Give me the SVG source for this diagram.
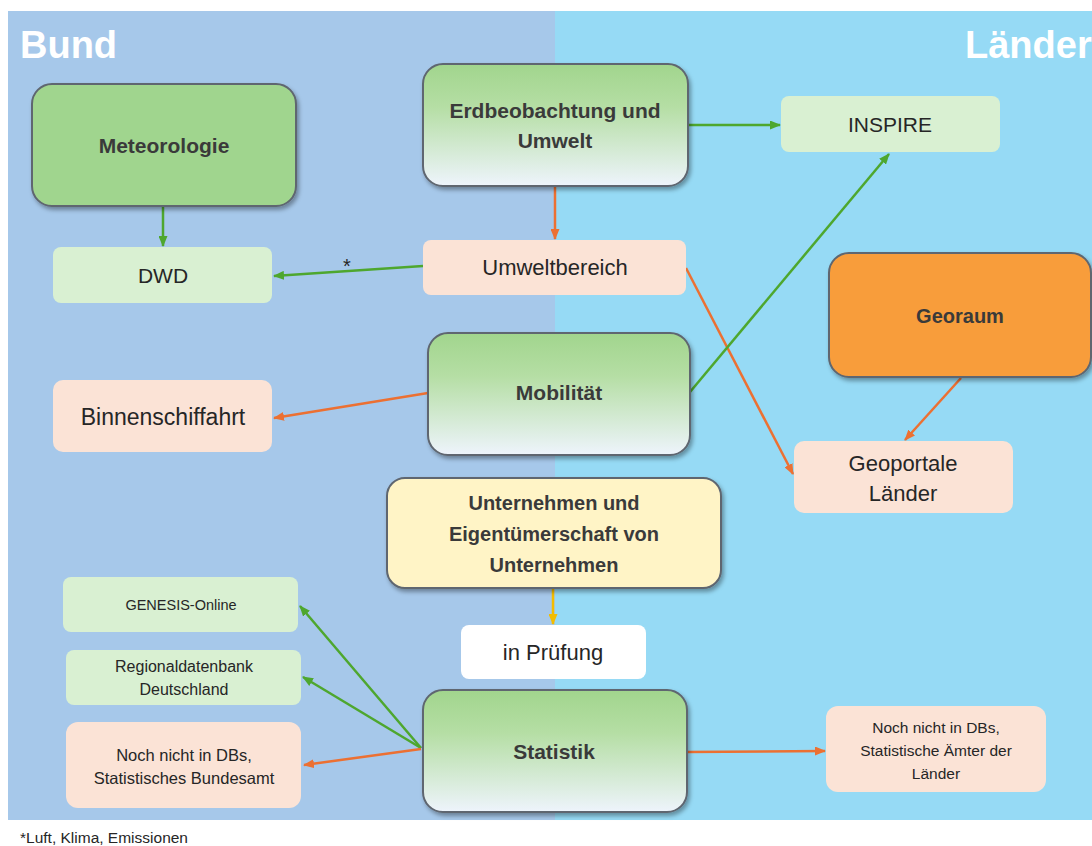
<svg xmlns="http://www.w3.org/2000/svg" width="1092" height="846" viewBox="0 0 1092 846">
<style>
  .t { font-family: "Liberation Sans", Arial, sans-serif; fill: #262626; text-anchor: middle; }
  .b { font-weight: bold; fill: #3a3a3a; }
  .main { stroke: #5e6670; stroke-width: 2; filter: url(#sh); }
  .lg { fill: #d9f0d2; }
  .pe { fill: #fbe3d6; }
  .g { stroke: #4ea72e; stroke-width: 2.5; fill: none; marker-end: url(#ag); }
  .o { stroke: #ec7032; stroke-width: 2.5; fill: none; marker-end: url(#ao); }
  .y { stroke: #f2bd00; stroke-width: 2.5; fill: none; marker-end: url(#ay); }
  .title { font-family: "Liberation Sans", Arial, sans-serif; font-weight: bold; fill: #ffffff; font-size: 38px; }
</style>
<defs>
  <linearGradient id="gw" x1="0" y1="0" x2="0" y2="1">
    <stop offset="0" stop-color="#a1d58d"/>
    <stop offset="0.35" stop-color="#b5dea4"/>
    <stop offset="1" stop-color="#eef4fc"/>
  </linearGradient>
  <filter id="sh" x="-10%" y="-10%" width="125%" height="130%">
    <feDropShadow dx="2" dy="3" stdDeviation="2" flood-color="#000" flood-opacity="0.35"/>
  </filter>
  <marker id="ag" markerUnits="userSpaceOnUse" markerWidth="11" markerHeight="9" refX="10" refY="4.5" orient="auto"><path d="M0,0 L11,4.5 L0,9 z" fill="#4ea72e"/></marker>
  <marker id="ao" markerUnits="userSpaceOnUse" markerWidth="11" markerHeight="9" refX="10" refY="4.5" orient="auto"><path d="M0,0 L11,4.5 L0,9 z" fill="#ec7032"/></marker>
  <marker id="ay" markerUnits="userSpaceOnUse" markerWidth="11" markerHeight="9" refX="10" refY="4.5" orient="auto"><path d="M0,0 L11,4.5 L0,9 z" fill="#f2bd00"/></marker>
</defs>
<rect width="1092" height="846" fill="#ffffff"/>
<rect x="8" y="11" width="548" height="809" fill="#a6c8ea"/>
<rect x="555" y="11" width="537" height="809" fill="#96daf5"/>
<text class="title" x="20" y="58">Bund</text>
<text class="title" x="965" y="58">Länder</text>

<g id="connectors">
  <path class="g" d="M163,206 L163,246"/>
  <path class="g" d="M689,125 L780,125"/>
  <path class="o" d="M555,187 L555,239"/>
  <path class="g" d="M423,266 L274,276"/>
  <text class="t" x="347" y="273" font-size="20">*</text>
  <path class="o" d="M686,268 L793,474"/>
  <path class="g" d="M690,392 L889,154"/>
  <path class="o" d="M428,393 L274,418"/>
  <path class="o" d="M961,378 L905,440"/>
  <path class="y" d="M553,588 L553,624"/>
  <path class="g" d="M421,748 L300,606"/>
  <path class="g" d="M421,748 L303,677"/>
  <path class="o" d="M421,749 L304,765"/>
  <path class="o" d="M687,752 L825,751"/>
</g>

<g id="meteorologie">
  <rect class="main" x="32" y="84" width="264" height="122" rx="20" fill="#a0d58e"/>
  <text class="t b" x="164" y="153" font-size="21">Meteorologie</text>
</g>
<g id="erdbeobachtung">
  <rect class="main" x="423" y="64" width="265" height="122" rx="20" fill="url(#gw)"/>
  <text class="t b" x="555" y="118" font-size="21">Erdbeobachtung und</text>
  <text class="t b" x="555" y="148" font-size="21">Umwelt</text>
</g>
<g id="inspire">
  <rect class="lg" x="781" y="96" width="219" height="56" rx="8"/>
  <text class="t" x="890" y="132" font-size="21">INSPIRE</text>
</g>
<g id="dwd">
  <rect class="lg" x="53" y="247" width="219" height="56" rx="8"/>
  <text class="t" x="163" y="283" font-size="21">DWD</text>
</g>
<g id="umweltbereich">
  <rect class="pe" x="423" y="240" width="263" height="55" rx="8"/>
  <text class="t" x="555" y="275" font-size="22">Umweltbereich</text>
</g>
<g id="georaum">
  <rect class="main" x="829" y="253" width="262" height="124" rx="20" fill="#f89d3b"/>
  <text class="t b" x="960" y="323" font-size="20">Georaum</text>
</g>
<g id="mobilitaet">
  <rect class="main" x="428" y="333" width="262" height="122" rx="20" fill="url(#gw)"/>
  <text class="t b" x="559" y="400" font-size="21">Mobilität</text>
</g>
<g id="binnenschiffahrt">
  <rect class="pe" x="53" y="380" width="219" height="72" rx="10"/>
  <text class="t" x="163" y="425" font-size="23">Binnenschiffahrt</text>
</g>
<g id="geoportale">
  <rect class="pe" x="794" y="441" width="219" height="72" rx="10"/>
  <text class="t" x="903" y="471" font-size="22">Geoportale</text>
  <text class="t" x="903" y="501" font-size="22">Länder</text>
</g>
<g id="unternehmen">
  <rect class="main" x="387" y="478" width="334" height="110" rx="18" fill="#fff4c6"/>
  <text class="t b" x="554" y="510" font-size="20">Unternehmen und</text>
  <text class="t b" x="554" y="541" font-size="20">Eigentümerschaft von</text>
  <text class="t b" x="554" y="572" font-size="20">Unternehmen</text>
</g>
<g id="pruefung">
  <rect x="461" y="625" width="185" height="54" rx="8" fill="#ffffff"/>
  <text class="t" x="553" y="660" font-size="22">in Prüfung</text>
</g>
<g id="statistik">
  <rect class="main" x="423" y="690" width="264" height="122" rx="20" fill="url(#gw)"/>
  <text class="t b" x="554" y="759" font-size="21">Statistik</text>
</g>
<g id="genesis">
  <rect class="lg" x="63" y="577" width="235" height="55" rx="8"/>
  <text class="t" x="181" y="610" font-size="14.5">GENESIS-Online</text>
</g>
<g id="regionaldatenbank">
  <rect class="lg" x="66" y="650" width="235" height="55" rx="8"/>
  <text class="t" x="184" y="672" font-size="16">Regionaldatenbank</text>
  <text class="t" x="184" y="695" font-size="16">Deutschland</text>
</g>
<g id="noch-bund">
  <rect class="pe" x="66" y="722" width="235" height="86" rx="12"/>
  <text class="t" x="184" y="761" font-size="16.5">Noch nicht in DBs,</text>
  <text class="t" x="184" y="784" font-size="16.5">Statistisches Bundesamt</text>
</g>
<g id="noch-laender">
  <rect class="pe" x="826" y="706" width="220" height="86" rx="12"/>
  <text class="t" x="936" y="733" font-size="15.5">Noch nicht in DBs,</text>
  <text class="t" x="936" y="756" font-size="15.5">Statistische Ämter der</text>
  <text class="t" x="936" y="779" font-size="15.5">Länder</text>
</g>
<text x="20" y="843" font-family="Liberation Sans, Arial, sans-serif" font-size="15.5" fill="#262626">*Luft, Klima, Emissionen</text>
</svg>
